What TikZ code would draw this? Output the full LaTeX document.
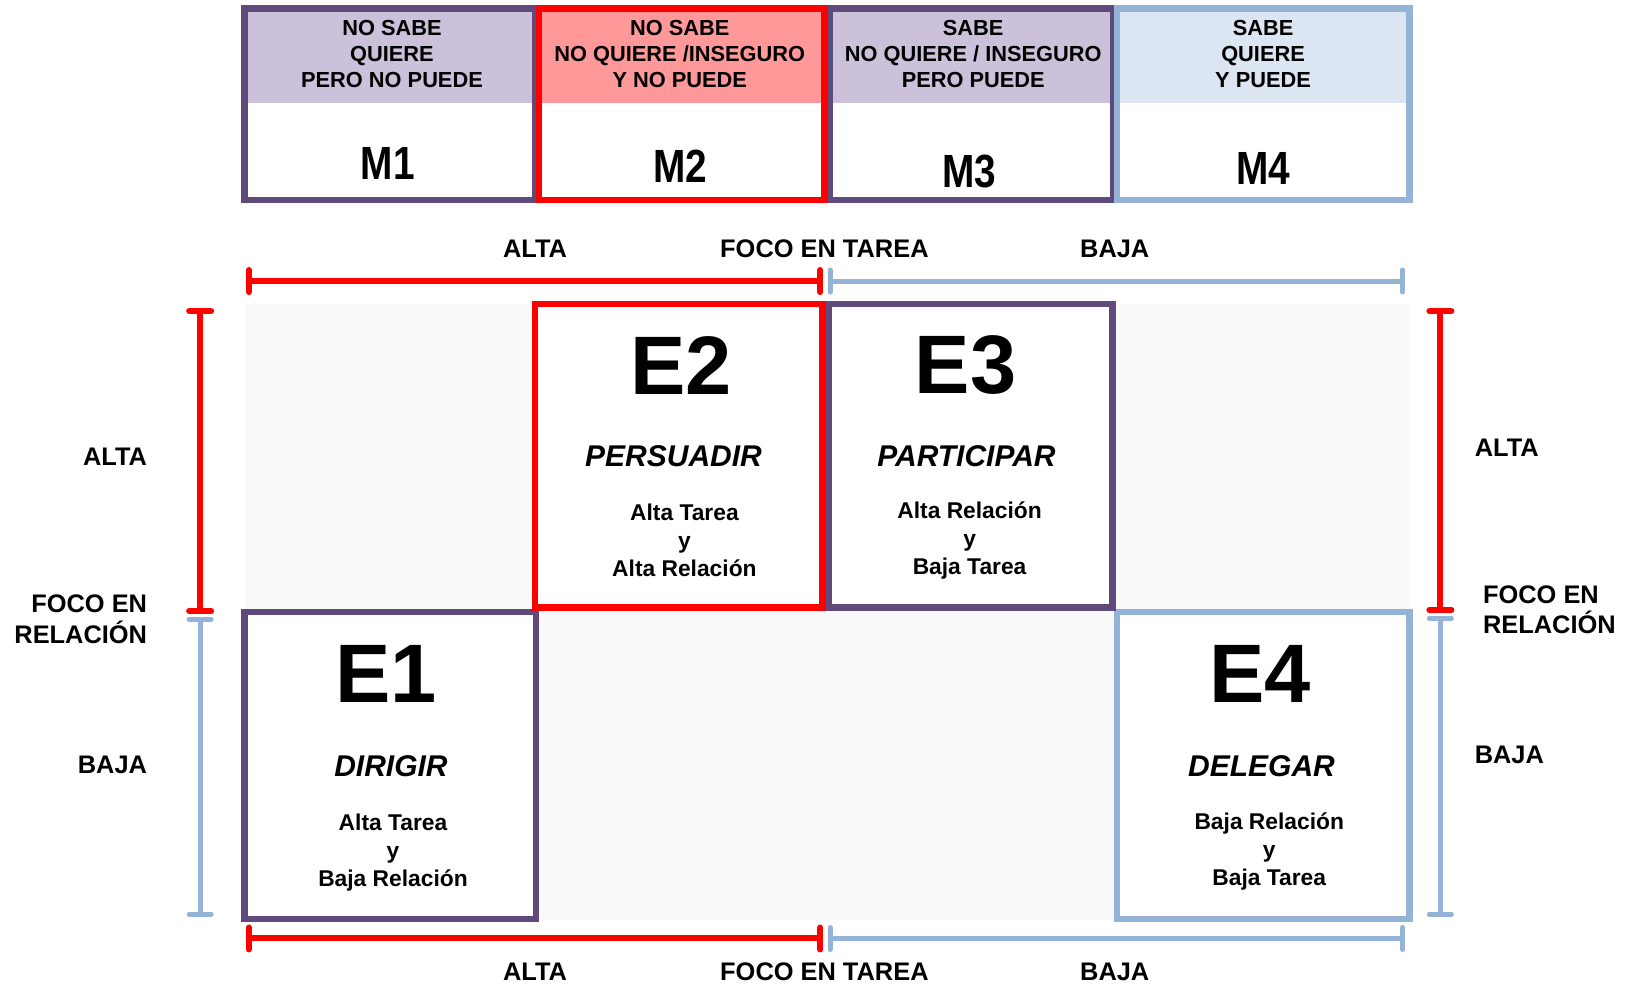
\documentclass[tikz,border=0pt]{standalone}
\usepackage{fontspec}
\setmainfont{Liberation Sans}
\usetikzlibrary{fit,arrows.meta}
\definecolor{pur}{HTML}{604A7B}
\definecolor{lblue}{HTML}{95B3D7}
\definecolor{lav}{HTML}{CCC1DA}
\definecolor{pinkf}{HTML}{FF9999}
\definecolor{palef}{HTML}{DCE6F2}
\definecolor{bgf}{HTML}{F9F9F9}
\newcommand\fsz[2]{\fontsize{#1}{#2}\selectfont}
\begin{document}
\begin{tikzpicture}[x=1.037pt,y=-1.037pt,
  box/.style={draw, line width=6.5pt, inner sep=0pt, outer sep=0pt},
  hdr/.style={inner sep=0pt, align=center, font=\fsz{21.8pt}{25.9pt}\bfseries},
  mlab/.style={inner sep=0pt, font=\fsz{38.8pt}{40pt}\bfseries},
  elab/.style={inner sep=0pt, font=\fsz{83pt}{85pt}\bfseries},
  verb/.style={inner sep=0pt, font=\fsz{30pt}{32pt}\bfseries\itshape},
  sub/.style={inner sep=0pt, align=center, font=\fsz{22.8pt}{28pt}\bfseries},
  axl/.style={inner sep=0pt, font=\fsz{25.4pt}{30.6pt}\bfseries},
  raxis/.style={draw=red, line width=6pt, {Bar[width=22pt,round]}-{Bar[width=22pt,round]}},
  baxis/.style={draw=lblue, line width=5pt, {Bar[width=22pt,round]}-{Bar[width=22pt,round]}}
]
\useasboundingbox (0,0) rectangle (1568,949);
\fill[white] (0,0) rectangle (1568,949);

% top M boxes
\fill[lav] (236,8) rectangle (516,99);
\fill[pinkf] (520,8) rectangle (795,99);
\fill[lav] (800,8) rectangle (1074,99);
\fill[palef] (1077,8) rectangle (1359,99);
\node[box, draw=pur, fit={(236,8)(516,193)}] (m1) {};
\node[box, draw=pur, fit={(800,8)(1074,193)}] (m3) {};
\node[box, draw=lblue, fit={(1077,8)(1359,193)}] (m4) {};
\node[box, draw=red, fit={(520,8)(795,193)}] (m2) {};

\node[hdr] (m1h) at (378,52) {NO SABE\\QUIERE\\PERO NO PUEDE};
\node[hdr] (m2h) at (655.5,52) {NO SABE\\NO QUIERE /INSEGURO\\Y NO PUEDE};
\node[hdr] (m3h) at (938.5,52) {SABE\\NO QUIERE / INSEGURO\\PERO PUEDE};
\node[hdr] (m4h) at (1218,52) {SABE\\QUIERE\\Y PUEDE};
\node[mlab] (m1l) at (374,158) {\scalebox{1}[1.2]{M1}};
\node[mlab] (m2l) at (656,160) {\scalebox{1}[1.2]{M2}};
\node[mlab] (m3l) at (935,165) {\scalebox{1}[1.2]{M3}};
\node[mlab] (m4l) at (1218,162) {\scalebox{1}[1.2]{M4}};

% top axis
\coordinate (tL) at (237,271);
\coordinate (tM1) at (794,271);
\coordinate (tM2) at (798,271);
\coordinate (tR) at (1355,271);
\draw[raxis] (tL) -- (tM1);
\draw[baxis] (tM2) -- (tR);
\node[axl] (ta1) at (516,240) {ALTA};
\node[axl] (ta2) at (795,240) {FOCO EN TAREA};
\node[axl] (ta3) at (1075,240) {BAJA};

% background
\fill[bgf] (236,293) rectangle (1360,887);

% E boxes
\node[box, draw=pur, fill=white, fit={(236,590)(517,886)}] (e1) {};
\node[box, draw=lblue, fill=white, fit={(1077,590)(1359,886)}] (e4) {};
\node[box, draw=pur, fill=white, fit={(799,293)(1073,586)}] (e3) {};
\node[box, draw=red, fill=white, fit={(516,293)(793,586)}] (e2) {};

\node[elab] (e2l) at (657,352) {E2};
\node[verb] (e2v) at (649.5,440) {PERSUADIR};
\node[sub] (e2s) at (660,521) {Alta Tarea\\y\\Alta Relación};
\node[elab] (e3l) at (931,352) {E3};
\node[verb] (e3v) at (932,440) {PARTICIPAR};
\node[sub] (e3s) at (935,521) {Alta Relación\\y\\Baja Tarea};
\node[elab] (e1l) at (372,650) {E1};
\node[verb] (e1v) at (377,739) {DIRIGIR};
\node[sub] (e1s) at (379,822) {Alta Tarea\\y\\Baja Relación};
\node[elab] (e4l) at (1215,650) {E4};
\node[verb] (e4v) at (1216.5,739) {DELEGAR};
\node[sub] (e4s) at (1224,821) {Baja Relación\\y\\Baja Tarea};

% left axis
\coordinate (lT) at (193,297);
\coordinate (lM1) at (193,592);
\coordinate (lM2) at (193,595);
\coordinate (lB) at (193,884);
\draw[raxis] (lT) -- (lM1);
\draw[baxis] (lM2) -- (lB);
\node[axl, anchor=east] (la1) at (142,440) {ALTA};
\node[axl, anchor=east, align=right] (la2) at (142,597) {FOCO EN\\RELACIÓN};
\node[axl, anchor=east] (la3) at (142,738) {BAJA};

% right axis
\coordinate (rT) at (1389,297);
\coordinate (rM1) at (1389,591);
\coordinate (rM2) at (1389,594);
\coordinate (rB) at (1389,884);
\draw[raxis] (rT) -- (rM1);
\draw[baxis] (rM2) -- (rB);
\node[axl, anchor=west] (ra1) at (1422,432) {ALTA};
\node[axl, anchor=west, align=left] (ra2) at (1430,588) {FOCO EN\\RELACIÓN};
\node[axl, anchor=west] (ra3) at (1422,728) {BAJA};

% bottom axis
\coordinate (bL) at (237,905);
\coordinate (bM1) at (794,905);
\coordinate (bM2) at (798,905);
\coordinate (bR) at (1355,905);
\draw[raxis] (bL) -- (bM1);
\draw[baxis] (bM2) -- (bR);
\node[axl] (ba1) at (516,937) {ALTA};
\node[axl] (ba2) at (795,937) {FOCO EN TAREA};
\node[axl] (ba3) at (1075,937) {BAJA};
\end{tikzpicture}
\end{document}
